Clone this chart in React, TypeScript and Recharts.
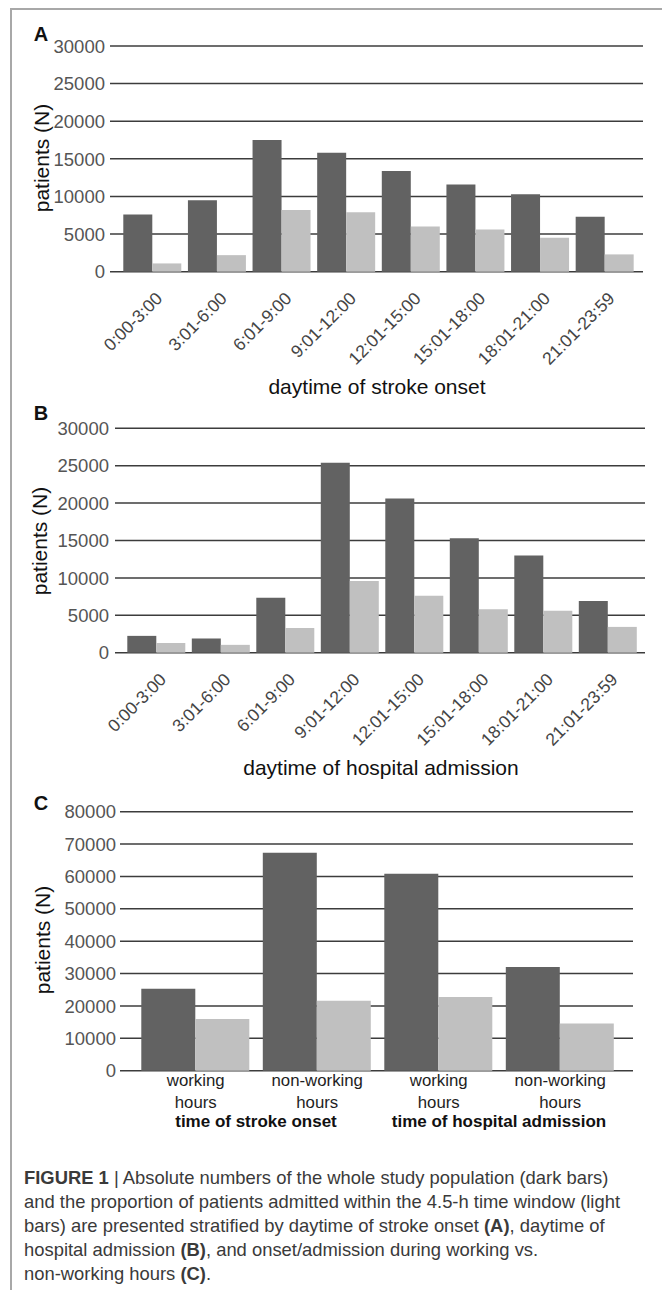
import React from "react";
import { Bar, BarChart, CartesianGrid, XAxis, YAxis } from "recharts";

// panel A: daytime of stroke onset
const onsetSlots = ["0:00-3:00", "3:01-6:00", "6:01-9:00", "9:01-12:00", "12:01-15:00", "15:01-18:00", "18:01-21:00", "21:01-23:59"];
const onsetAll = [7600, 9500, 17500, 15800, 13400, 11600, 10300, 7300];
const onsetWindow = [1100, 2200, 8200, 7900, 6000, 5600, 4500, 2300];

// panel B: daytime of hospital admission
const admissionSlots = onsetSlots;
const admissionAll = [2250, 1900, 7350, 25400, 20600, 15300, 13000, 6900];
const admissionWindow = [1300, 1050, 3300, 9600, 7600, 5800, 5600, 3450];

// panel C: working vs non-working hours
const hoursGroups = ["working|hours", "non-working|hours", "working|hours", "non-working|hours"];
const hoursAll = [25300, 67300, 60800, 32000];
const hoursWindow = [16000, 21600, 22800, 14600];

const ticks30k = [0, 5000, 10000, 15000, 20000, 25000, 30000];
const ticks80k = [0, 10000, 20000, 30000, 40000, 50000, 60000, 70000, 80000];

const DARK = "#626262";
const LIGHT = "#c0c0c0";
const GRID = "#3c3c3c";
const FONT = "'Liberation Sans', Arial, sans-serif";

type Datum = { label: string; all: number; window: number };
const toRows = (labels: string[], all: number[], win: number[]): Datum[] =>
  labels.map((label, i) => ({ label, all: all[i], window: win[i] }));

// tick renderers get the axis baseline (relative to the panel svg)
type TickMaker = (axisY: number) => (p: any) => React.ReactElement;

const slantTick: TickMaker = (axisY) => ({ x, payload }: any) => {
  const ax = x + 11;
  const ay = axisY + 28;
  return (
    <text x={ax} y={ay} transform={`rotate(-45 ${ax} ${ay})`} textAnchor="end" fontSize={17.5} fill="#444" fontFamily={FONT}>
      {payload.value}
    </text>
  );
};

const hoursTick: TickMaker = (axisY) => ({ x, payload }: any) => {
  const [a, b] = String(payload.value).split("|");
  return (
    <text textAnchor="middle" fontSize={16.8} fill="#1e1e1e" fontFamily={FONT}>
      <tspan x={x} y={axisY + 15}>{a}</tspan>
      <tspan x={x} y={axisY + 37.5}>{b}</tspan>
    </text>
  );
};

type PanelProps = {
  top: number; height: number; plotTop: number; plotBottom: number; plotLeft: number; plotRight: number;
  data: Datum[]; ticks: number[]; padding: { left: number; right: number }; catGap: number;
  tickGap: number; xTick: TickMaker;
};

function Panel({ top, height, plotTop, plotBottom, plotLeft, plotRight, data, ticks, padding, catGap, tickGap, xTick }: PanelProps) {
  const axisY = plotBottom - top;
  const xAxisHeight = height - axisY - 4;
  const yTick = ({ y, payload }: any) => (
    <text x={plotLeft - tickGap} y={y} dy="0.36em" textAnchor="end" fontSize={18.5} fill="#555" fontFamily={FONT}>
      {payload.value}
    </text>
  );
  return (
    <div style={{ position: "absolute", left: 0, top, width: 662, height }}>
      <BarChart width={662} height={height} data={data} barGap={0} barCategoryGap={catGap}
        margin={{ top: plotTop - top, right: 662 - plotRight, left: 0, bottom: 4 }}>
        <CartesianGrid horizontal vertical={false} stroke={GRID} strokeWidth={1.5} />
        <XAxis dataKey="label" interval={0} padding={padding} height={xAxisHeight} axisLine={false} tickLine={false} tick={xTick(axisY)} />
        <YAxis width={plotLeft} domain={[0, ticks[ticks.length - 1]]} ticks={ticks} interval={0} axisLine={false} tickLine={false} tick={yTick} />
        <Bar dataKey="all" fill={DARK} isAnimationActive={false} />
        <Bar dataKey="window" fill={LIGHT} isAnimationActive={false} />
      </BarChart>
    </div>
  );
}

function Letter({ x, y, children }: { x: number; y: number; children: string }) {
  return <div style={{ position: "absolute", left: x - 10, top: y - 11, width: 20, height: 22, lineHeight: "22px", textAlign: "center", fontWeight: 700, fontSize: 20, fontFamily: FONT, color: "#111" }}>{children}</div>;
}

function YTitle({ x, y }: { x: number; y: number }) {
  return <div style={{ position: "absolute", left: x - 80, top: y - 14, width: 160, height: 28, lineHeight: "28px", textAlign: "center", fontSize: 21, fontFamily: FONT, color: "#111", transform: "rotate(-90deg)" }}>patients (N)</div>;
}

function XTitle({ x, y, text, bold = false, size = 21 }: { x: number; y: number; text: string; bold?: boolean; size?: number }) {
  const h = Math.round(size * 1.2);
  return <div style={{ position: "absolute", left: x - 200, top: y - h / 2, width: 400, height: h, lineHeight: `${h}px`, textAlign: "center", fontSize: size, fontWeight: bold ? 700 : 400, fontFamily: FONT, color: "#111", whiteSpace: "nowrap" }}>{text}</div>;
}

export default function App() {
  return (
    <div style={{ position: "absolute", left: 0, top: 0, width: 662, height: 1290, background: "#fff", overflow: "hidden" }}>
      <div style={{ position: "absolute", left: 10, top: 8, width: 660, height: 1290, borderLeft: "2px solid #a8a8a8", borderTop: "2px solid #a8a8a8" }} />

      <Panel top={0} height={400} plotTop={46} plotBottom={271.7} plotLeft={110} plotRight={643}
        data={toRows(onsetSlots, onsetAll, onsetWindow)} ticks={ticks30k} padding={{ left: 10, right: 6 }} catGap={3.3}
        tickGap={5} xTick={slantTick} />
      <Letter x={41} y={34}>A</Letter>
      <YTitle x={42} y={158} />
      <XTitle x={377} y={386} text="daytime of stroke onset" />

      <Panel top={395} height={385} plotTop={428.3} plotBottom={652.7} plotLeft={115} plotRight={645}
        data={toRows(admissionSlots, admissionAll, admissionWindow)} ticks={ticks30k} padding={{ left: 9, right: 5 }} catGap={3.3}
        tickGap={6} xTick={slantTick} />
      <Letter x={41} y={413}>B</Letter>
      <YTitle x={40} y={541} />
      <XTitle x={381} y={767} text="daytime of hospital admission" />

      <Panel top={790} height={345} plotTop={811.7} plotBottom={1070.7} plotLeft={120} plotRight={633}
        data={toRows(hoursGroups, hoursAll, hoursWindow)} ticks={ticks80k} padding={{ left: 15, right: 12 }} catGap={6.3}
        tickGap={4} xTick={hoursTick} />
      <Letter x={41} y={803}>C</Letter>
      <YTitle x={43} y={940} />
      <XTitle x={256} y={1122} text="time of stroke onset" bold size={17} />
      <XTitle x={499} y={1122} text="time of hospital admission" bold size={17} />

      <div style={{ position: "absolute", left: 24, top: 1166, width: 636, fontFamily: FONT, fontSize: 18.4, lineHeight: "24px", color: "#3a3a3a", whiteSpace: "nowrap" }}>
        <div><b>FIGURE 1</b> | Absolute numbers of the whole study population (dark bars)</div>
        <div>and the proportion of patients admitted within the 4.5-h time window (light</div>
        <div>bars) are presented stratified by daytime of stroke onset <b>(A)</b>, daytime of</div>
        <div>hospital admission <b>(B)</b>, and onset/admission during working vs.</div>
        <div>non-working hours <b>(C)</b>.</div>
      </div>
    </div>
  );
}
